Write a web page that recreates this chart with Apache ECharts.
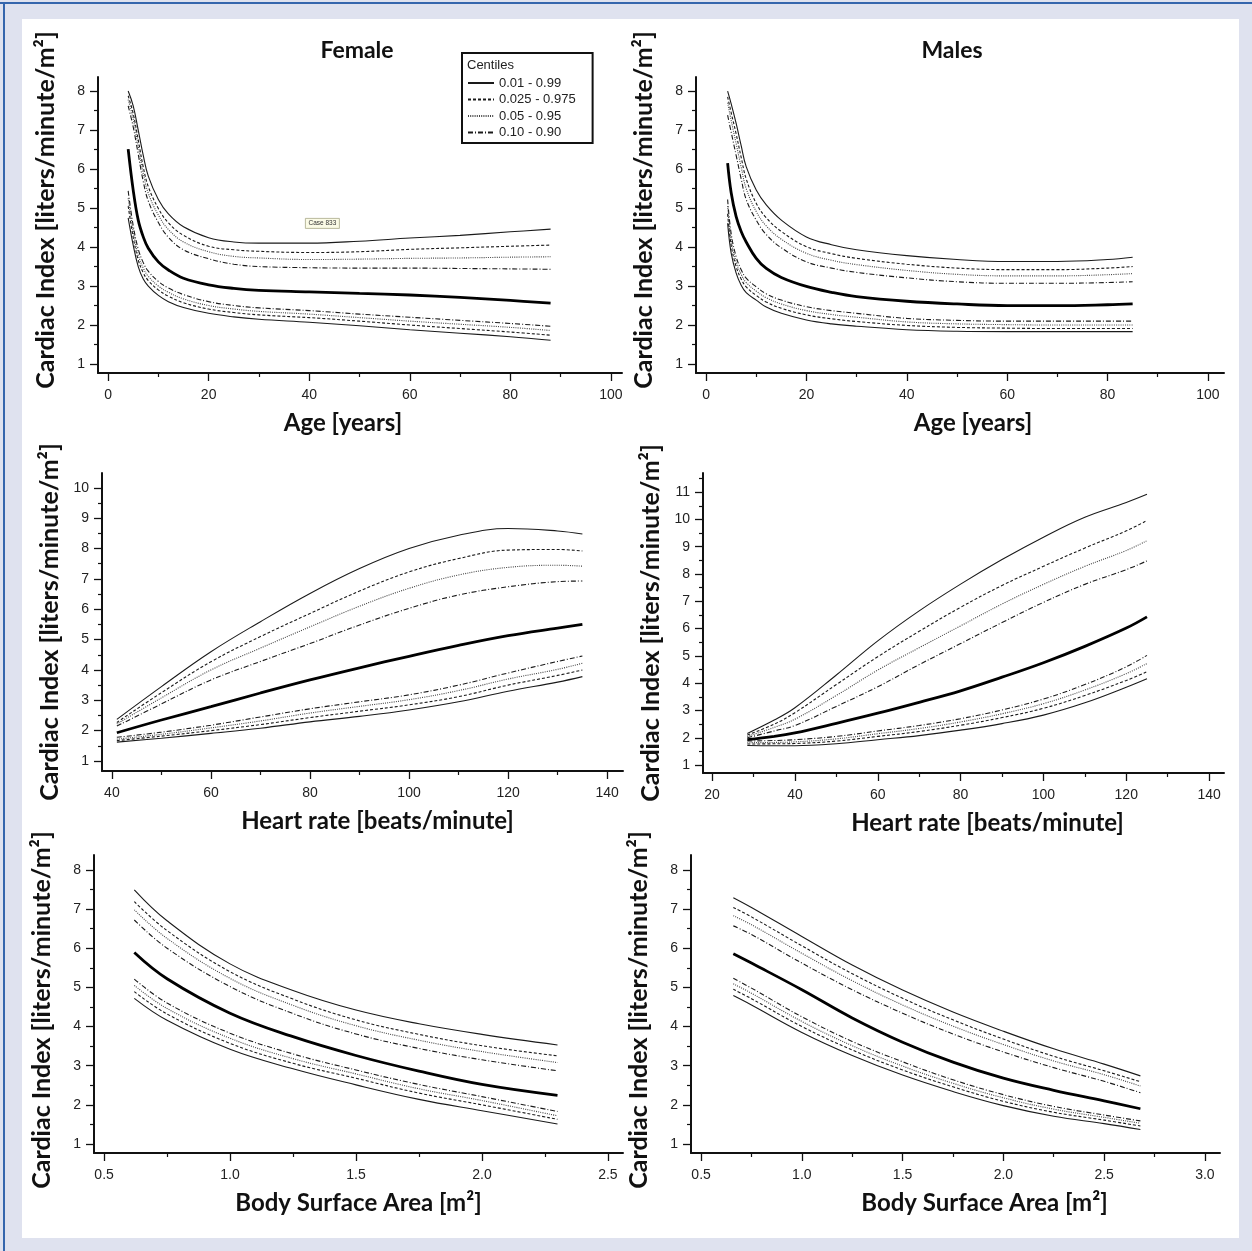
<!DOCTYPE html>
<html><head><meta charset="utf-8">
<script src="https://cdn.jsdelivr.net/npm/echarts@6/dist/echarts.min.js"></script>
<style>html,body{margin:0;padding:0;background:#dfe2ef;}#c{width:1252px;height:1251px;}</style>
</head><body><div id="c"></div>
<script>
// ---------- DATA ----------
// Female, age
const fAgeX    = [4,5,6,7,8,10,12,15,20,25,30,40,50,60,70,80,88];
const fAgeP99  = [8.00,7.62,7.00,6.35,5.82,5.22,4.85,4.52,4.24,4.13,4.10,4.10,4.15,4.23,4.30,4.39,4.46];
const fAgeP975 = [7.88,7.42,6.75,6.05,5.55,4.99,4.62,4.30,4.02,3.93,3.89,3.86,3.88,3.94,3.98,4.02,4.05];
const fAgeP95  = [7.78,7.28,6.58,5.88,5.38,4.82,4.45,4.13,3.88,3.76,3.72,3.68,3.69,3.71,3.72,3.74,3.75];
const fAgeP90  = [7.62,7.08,6.38,5.68,5.18,4.63,4.25,3.93,3.70,3.56,3.50,3.47,3.46,3.46,3.45,3.44,3.43];
const fAgeP50  = [6.51,5.46,4.69,4.26,3.97,3.62,3.41,3.20,3.03,2.94,2.89,2.85,2.81,2.77,2.71,2.63,2.56];
const fAgeP10  = [5.44,4.55,3.95,3.60,3.38,3.12,2.95,2.78,2.60,2.50,2.44,2.37,2.28,2.20,2.12,2.04,1.97];
const fAgeP05  = [5.25,4.40,3.80,3.46,3.25,3.00,2.84,2.67,2.50,2.41,2.35,2.28,2.19,2.10,2.02,1.94,1.86];
const fAgeP025 = [5.05,4.25,3.67,3.34,3.14,2.90,2.74,2.57,2.41,2.32,2.26,2.19,2.10,2.00,1.91,1.82,1.74];
const fAgeP01  = [4.75,4.05,3.50,3.18,3.00,2.76,2.60,2.45,2.30,2.21,2.15,2.07,1.98,1.88,1.79,1.70,1.61];
// Males, age
const mAgeX    = [4.3,5,6,7,8,10,12,15,20,25,30,40,50,60,70,80,85];
const mAgeP99  = [8.00,7.68,7.17,6.60,6.06,5.46,5.08,4.69,4.26,4.06,3.93,3.78,3.68,3.63,3.63,3.68,3.74];
const mAgeP975 = [7.85,7.45,6.90,6.30,5.75,5.12,4.75,4.40,4.01,3.83,3.71,3.56,3.46,3.42,3.42,3.46,3.50];
const mAgeP95  = [7.70,7.25,6.65,6.05,5.50,4.91,4.54,4.20,3.84,3.66,3.55,3.40,3.30,3.26,3.26,3.29,3.32];
const mAgeP90  = [7.38,6.95,6.35,5.75,5.22,4.69,4.32,3.98,3.62,3.46,3.35,3.21,3.11,3.07,3.07,3.09,3.11];
const mAgeP50  = [6.15,5.40,4.78,4.40,4.13,3.71,3.45,3.22,2.99,2.84,2.73,2.61,2.54,2.50,2.50,2.52,2.54];
const mAgeP10  = [5.22,4.35,3.75,3.42,3.20,2.98,2.80,2.64,2.47,2.37,2.30,2.17,2.12,2.10,2.10,2.10,2.10];
const mAgeP05  = [5.05,4.20,3.62,3.30,3.09,2.87,2.70,2.54,2.37,2.27,2.20,2.08,2.03,2.01,2.00,2.00,2.00];
const mAgeP025 = [4.85,4.05,3.50,3.18,2.98,2.76,2.59,2.43,2.26,2.16,2.09,1.99,1.94,1.92,1.91,1.91,1.91];
const mAgeP01  = [4.61,3.85,3.33,3.02,2.83,2.64,2.46,2.30,2.13,2.03,1.97,1.88,1.84,1.83,1.83,1.83,1.83];
// Female, heart rate
const fHrX    = [41,50,60,70,80,90,100,110,120,130,135];
const fHrP99  = [2.37,3.45,4.60,5.59,6.52,7.34,8.00,8.44,8.66,8.58,8.48];
const fHrP975 = [2.27,3.25,4.27,5.10,5.86,6.60,7.23,7.67,7.95,7.97,7.92];
const fHrP95  = [2.22,3.08,4.00,4.72,5.42,6.10,6.69,7.13,7.38,7.45,7.42];
const fHrP90  = [2.15,2.88,3.67,4.28,4.87,5.48,6.03,6.47,6.74,6.91,6.93];
const fHrP50  = [1.93,2.35,2.79,3.24,3.67,4.07,4.45,4.81,5.13,5.38,5.50];
const fHrP10  = [1.78,1.95,2.18,2.45,2.72,2.95,3.18,3.50,3.90,4.28,4.46];
const fHrP05  = [1.72,1.88,2.09,2.32,2.58,2.80,3.02,3.32,3.70,4.02,4.22];
const fHrP025 = [1.67,1.82,2.00,2.20,2.43,2.64,2.85,3.12,3.50,3.82,4.00];
const fHrP01  = [1.62,1.75,1.91,2.08,2.29,2.47,2.68,2.95,3.30,3.60,3.78];
// Males, heart rate
const mHrX    = [28.5,35,40,50,60,70,80,90,100,110,120,125];
const mHrP99  = [2.16,2.65,3.10,4.30,5.55,6.65,7.63,8.53,9.35,10.08,10.62,10.92];
const mHrP975 = [2.10,2.50,2.92,3.95,4.97,5.90,6.78,7.58,8.28,8.95,9.58,9.96];
const mHrP95  = [2.05,2.38,2.68,3.55,4.48,5.30,6.10,6.90,7.62,8.28,8.86,9.22];
const mHrP90  = [2.00,2.25,2.45,3.15,3.87,4.68,5.45,6.22,6.96,7.62,8.16,8.48];
const mHrP50  = [1.93,2.05,2.18,2.53,2.90,3.30,3.72,4.22,4.75,5.35,6.02,6.43];
const mHrP10  = [1.88,1.90,1.93,2.05,2.25,2.45,2.70,3.02,3.42,3.95,4.60,5.02];
const mHrP05  = [1.82,1.83,1.85,1.96,2.15,2.34,2.58,2.88,3.25,3.75,4.35,4.72];
const mHrP025 = [1.77,1.78,1.79,1.88,2.05,2.23,2.46,2.74,3.08,3.55,4.10,4.42];
const mHrP01  = [1.72,1.71,1.71,1.78,1.93,2.08,2.28,2.52,2.83,3.28,3.85,4.16];
// Female, body surface area
const fBsaX    = [0.62,0.75,1.0,1.25,1.5,1.75,2.0,2.3];
const fBsaP99  = [7.49,6.70,5.60,4.92,4.42,4.07,3.80,3.53];
const fBsaP975 = [7.19,6.45,5.40,4.70,4.17,3.80,3.51,3.25];
const fBsaP95  = [6.98,6.25,5.23,4.54,4.02,3.65,3.36,3.08];
const fBsaP90  = [6.72,6.00,5.02,4.33,3.81,3.44,3.15,2.87];
const fBsaP50  = [5.89,5.22,4.34,3.74,3.26,2.86,2.52,2.24];
const fBsaP10  = [5.21,4.60,3.83,3.30,2.89,2.52,2.21,1.83];
const fBsaP05  = [5.05,4.46,3.70,3.18,2.79,2.41,2.11,1.72];
const fBsaP025 = [4.89,4.32,3.57,3.06,2.68,2.30,2.00,1.63];
const fBsaP01  = [4.72,4.16,3.42,2.92,2.51,2.14,1.85,1.51];
// Males, body surface area
const mBsaX    = [0.66,0.75,1.0,1.25,1.5,1.75,2.0,2.25,2.5,2.68];
const mBsaP99  = [7.29,7.04,6.30,5.57,4.93,4.37,3.88,3.43,3.04,2.74];
const mBsaP975 = [7.04,6.80,6.06,5.35,4.72,4.17,3.68,3.24,2.87,2.59];
const mBsaP95  = [6.83,6.60,5.87,5.17,4.55,4.01,3.54,3.12,2.77,2.48];
const mBsaP90  = [6.57,6.35,5.62,4.94,4.34,3.81,3.35,2.95,2.60,2.31];
const mBsaP50  = [5.86,5.62,4.94,4.22,3.60,3.09,2.68,2.37,2.10,1.90];
const mBsaP10  = [5.23,4.98,4.25,3.62,3.10,2.64,2.26,1.96,1.74,1.59];
const mBsaP05  = [5.09,4.85,4.13,3.51,2.99,2.55,2.18,1.89,1.68,1.53];
const mBsaP025 = [4.95,4.71,4.00,3.40,2.89,2.46,2.09,1.81,1.61,1.46];
const mBsaP01  = [4.79,4.55,3.85,3.26,2.76,2.34,1.98,1.71,1.52,1.37];

// Tick labels
const ageMajor = [0,20,40,60,80,100];
const ageMinor = [10,30,50,70,90];
const fHrMajor = [40,60,80,100,120,140];
const fHrMinor = [50,70,90,110,130];
const mHrMajor = [20,40,60,80,100,120,140];
const mHrMinor = [30,50,70,90,110,130];
const fBsaMajor = [0.5,1.0,1.5,2.0,2.5];
const fBsaMinor = [0.75,1.25,1.75,2.25];
const mBsaMajor = [0.5,1.0,1.5,2.0,2.5,3.0];
const mBsaMinor = [0.75,1.25,1.75,2.25,2.75];
const ci8Major = [1,2,3,4,5,6,7,8];
const ci8Minor = [1.5,2.5,3.5,4.5,5.5,6.5,7.5];
const ci10Major = [1,2,3,4,5,6,7,8,9,10];
const ci10Minor = [1.5,2.5,3.5,4.5,5.5,6.5,7.5,8.5,9.5];
const ci11Major = [1,2,3,4,5,6,7,8,9,10,11];
const ci11Minor = [1.5,2.5,3.5,4.5,5.5,6.5,7.5,8.5,9.5,10.5,11.5];

const centileNames = ['0.01 - 0.99','0.025 - 0.975','0.05 - 0.95','0.10 - 0.90'];
const panelTitles = ['Female','Males'];
const yName = 'Cardiac Index [liters/minute/m\u00B2]';
const xNames = ['Age [years]','Heart rate [beats/minute]','Body Surface Area [m\u00B2]'];

// ---------- BUILD ----------
const panels = [
  {x:fAgeX, lines:[fAgeP01,fAgeP025,fAgeP05,fAgeP10,fAgeP50,fAgeP90,fAgeP95,fAgeP975,fAgeP99],
   grid:{left:98,top:77,width:524,height:296}, xr:[-2,102.2], yr:[0.77,8.36],
   xMaj:ageMajor, xMin:ageMinor, yMaj:ci8Major, yMin:ci8Minor, xName:xNames[0], xShift:-17, yShift:-15, dec:0},
  {x:mAgeX, lines:[mAgeP01,mAgeP025,mAgeP05,mAgeP10,mAgeP50,mAgeP90,mAgeP95,mAgeP975,mAgeP99],
   grid:{left:696,top:77,width:528,height:296}, xr:[-2,103.2], yr:[0.77,8.36],
   xMaj:ageMajor, xMin:ageMinor, yMaj:ci8Major, yMin:ci8Minor, xName:xNames[0], xShift:13, yShift:-15, dec:0},
  {x:fHrX, lines:[fHrP01,fHrP025,fHrP05,fHrP10,fHrP50,fHrP90,fHrP95,fHrP975,fHrP99],
   grid:{left:102,top:473,width:521,height:298}, xr:[38,143.2], yr:[0.67,10.49],
   xMaj:fHrMajor, xMin:fHrMinor, yMaj:ci10Major, yMin:ci10Minor, xName:xNames[1], xShift:15, yShift:0, dec:0},
  {x:mHrX, lines:[mHrP01,mHrP025,mHrP05,mHrP10,mHrP50,mHrP90,mHrP95,mHrP975,mHrP99],
   grid:{left:703,top:473,width:521,height:300}, xr:[17.8,143.6], yr:[0.71,11.7],
   xMaj:mHrMajor, xMin:mHrMinor, yMaj:ci11Major, yMin:ci11Minor, xName:xNames[1], xShift:24, yShift:0, dec:0},
  {x:fBsaX, lines:[fBsaP01,fBsaP025,fBsaP05,fBsaP10,fBsaP50,fBsaP90,fBsaP95,fBsaP975,fBsaP99],
   grid:{left:94,top:855,width:529,height:298}, xr:[0.46,2.56], yr:[0.77,8.38],
   xMaj:fBsaMajor, xMin:fBsaMinor, yMaj:ci8Major, yMin:ci8Minor, xName:xNames[2], xShift:0, yShift:6, dec:1},
  {x:mBsaX, lines:[mBsaP01,mBsaP025,mBsaP05,mBsaP10,mBsaP50,mBsaP90,mBsaP95,mBsaP975,mBsaP99],
   grid:{left:691,top:855,width:529,height:298}, xr:[0.45,3.075], yr:[0.77,8.38],
   xMaj:mBsaMajor, xMin:mBsaMinor, yMaj:ci8Major, yMin:ci8Minor, xName:xNames[2], xShift:29, yShift:6, dec:1}
];

const INK = '#111';
const lineDefs = [
  {name:centileNames[0], type:'solid',     width:1.1, color:'#1a1a1a'},
  {name:centileNames[1], type:[3,2],       width:1.1, color:'#1a1a1a'},
  {name:centileNames[2], type:[1,1.2],     width:1.1, color:'#444'},
  {name:centileNames[3], type:[5,2,1,2],   width:1.1, color:'#1a1a1a'},
  {name:'Median',        type:'solid',     width:2.8, color:'#000'},
  {name:centileNames[3], type:[5,2,1,2],   width:1.1, color:'#1a1a1a'},
  {name:centileNames[2], type:[1,1.2],     width:1.1, color:'#444'},
  {name:centileNames[1], type:[3,2],       width:1.1, color:'#1a1a1a'},
  {name:centileNames[0], type:'solid',     width:1.1, color:'#1a1a1a'}
];

const labelFont = {fontFamily:'Liberation Sans, Arial, sans-serif', fontSize:14, color:'#222'};
const nameFontX = {fontFamily:'Lato, "Open Sans", sans-serif', fontWeight:'bold', fontSize:24, color:'#111'};
const nameFontY = {fontFamily:'Lato, "Open Sans", sans-serif', fontWeight:'bold', fontSize:25, color:'#111'};

const grids = [], xAxes = [], yAxes = [], series = [];
panels.forEach((p, g) => {
  grids.push(Object.assign({containLabel:false, outerBoundsMode:'none'}, p.grid));
  const xPad = p.xShift >= 0 ? [0,0,0,2*p.xShift] : [0,-2*p.xShift,0,0];
  const yPad = p.yShift <= 0 ? [0,0,0,-2*p.yShift] : [0,2*p.yShift,0,0];
  xAxes.push({
    gridIndex:g, type:'value', position:'bottom', min:p.xr[0], max:p.xr[1],
    name:p.xName, nameLocation:'middle', nameGap:38,
    nameTextStyle:Object.assign({padding:xPad}, nameFontX),
    axisLine:{show:true, onZero:false, lineStyle:{color:INK, width:2}},
    axisTick:{show:true, customValues:p.xMaj, length:8, lineStyle:{color:INK, width:1.3}},
    axisLabel:{show:true, customValues:p.xMaj, margin:15,
      formatter:(v)=>Number(v).toFixed(p.dec), ...labelFont},
    splitLine:{show:false}
  });
  xAxes.push({
    gridIndex:g, type:'value', position:'bottom', min:p.xr[0], max:p.xr[1],
    axisLine:{show:false, onZero:false},
    axisTick:{show:true, customValues:p.xMin, length:4, lineStyle:{color:INK, width:1.2}},
    axisLabel:{show:false}, splitLine:{show:false}
  });
  yAxes.push({
    gridIndex:g, type:'value', position:'left', min:p.yr[0], max:p.yr[1],
    name:yName, nameLocation:'middle', nameRotate:90, nameGap:40,
    nameTextStyle:Object.assign({padding:yPad}, nameFontY),
    axisLine:{show:true, onZero:false, lineStyle:{color:INK, width:2}},
    axisTick:{show:true, customValues:p.yMaj, length:8, lineStyle:{color:INK, width:1.3}},
    axisLabel:{show:true, customValues:p.yMaj, margin:13, ...labelFont},
    splitLine:{show:false}
  });
  yAxes.push({
    gridIndex:g, type:'value', position:'left', min:p.yr[0], max:p.yr[1],
    axisLine:{show:false, onZero:false},
    axisTick:{show:true, customValues:p.yMin, length:4, lineStyle:{color:INK, width:1.2}},
    axisLabel:{show:false}, splitLine:{show:false}
  });
  p.lines.forEach((ys, i) => {
    const d = lineDefs[i];
    series.push({
      type:'line', name:d.name, xAxisIndex:2*g, yAxisIndex:2*g,
      data:p.x.map((xv, k) => [xv, ys[k]]),
      symbol:'none', smooth:0.4, silent:true, animation:false,
      lineStyle:{type:d.type, width:d.width, color:d.color, cap:'butt'},
      itemStyle:{color:d.color}, z: i===4 ? 3 : 2
    });
  });
});

const option = {
  backgroundColor:'#dfe2ef',
  animation:false,
  grid:grids, xAxis:xAxes, yAxis:yAxes, series:series,
  title:[
    {text:panelTitles[0], left:357, top:39, textAlign:'center', padding:0,
     textStyle:{fontFamily:'Lato, sans-serif', fontWeight:'bold', fontSize:23, color:'#111'}},
    {text:panelTitles[1], left:952, top:39, textAlign:'center', padding:0,
     textStyle:{fontFamily:'Lato, sans-serif', fontWeight:'bold', fontSize:23, color:'#111'}}
  ],
  legend:{
    left:462, top:53, orient:'vertical', data:centileNames, selectedMode:false,
    itemWidth:26, itemHeight:12, itemGap:3.5, padding:[23.5,17,4,5],
    borderColor:'#111', borderWidth:2, backgroundColor:'#fff',
    itemStyle:{opacity:0},
    textStyle:{fontFamily:'Liberation Sans, Arial, sans-serif', fontSize:13, color:'#222'}
  },
  graphic:[
    {type:'rect', z:-10, silent:true, shape:{x:22, y:19, width:1217, height:1219}, style:{fill:'#ffffff'}},
    {type:'rect', z:-9, silent:true, shape:{x:0, y:2, width:1252, height:2}, style:{fill:'#3566ad'}},
    {type:'rect', z:-9, silent:true, shape:{x:3, y:2, width:2, height:1249}, style:{fill:'#3566ad'}},
    {type:'text', z:50, left:467, top:59, silent:true,
     style:{text:'Centiles', fontFamily:'Liberation Sans, Arial, sans-serif', fontSize:13, fill:'#222'}},
    {type:'group', left:305, top:218, z:50, silent:true, children:[
      {type:'rect', shape:{x:0,y:0,width:34,height:10}, style:{fill:'#fbfbe6', stroke:'#a8a888', lineWidth:0.8}},
      {type:'text', x:17, y:5, style:{text:'Case 833', fontFamily:'Liberation Sans, Arial, sans-serif', fontSize:6.5, fill:'#333', align:'center', verticalAlign:'middle'}}
    ]}
  ]
};

const chart = echarts.init(document.getElementById('c'), null, {renderer:'canvas'});
chart.setOption(option);
</script>
</body></html>
